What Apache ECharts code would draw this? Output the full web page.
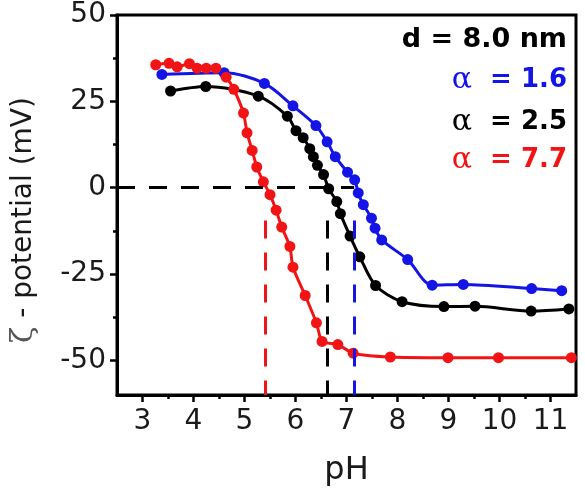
<!DOCTYPE html>
<html>
<head>
<meta charset="utf-8">
<script src="https://cdn.jsdelivr.net/npm/echarts@6/dist/echarts.min.js"></script>
<style>
html,body{margin:0;padding:0;background:#fff;}
#chart{width:585px;height:493px;}
</style>
</head>
<body>
<div id="chart"></div>
<script>
// ---- data ----
const bluePH   = [3.38, 4.60, 5.39, 5.95, 6.40, 6.62, 6.78, 7.02, 7.16, 7.23, 7.33, 7.49, 7.56, 7.69, 8.20, 8.68, 9.29, 10.63, 11.22];
const blueZeta = [32.8, 33.3, 30.2, 23.7, 18.0, 13.3, 9.0, 4.5, 2.3, -1.5, -4.9, -8.8, -11.7, -15.1, -20.8, -28.2, -28.0, -29.2, -29.8];

const blackPH   = [3.55, 4.24, 5.27, 5.84, 6.01, 6.15, 6.28, 6.35, 6.43, 6.55, 6.65, 6.81, 6.88, 7.07, 7.26, 7.57, 8.09, 8.91, 9.52, 10.62, 11.36];
const blackZeta = [28.0, 29.3, 26.5, 20.7, 16.5, 14.5, 11.3, 9.0, 6.5, 3.8, -0.3, -4.0, -7.5, -14.0, -20.0, -28.3, -33.0, -34.4, -34.3, -35.7, -35.1];

const redPH   = [3.26, 3.52, 3.68, 3.92, 4.07, 4.25, 4.44, 4.64, 4.79, 4.98, 5.05, 5.15, 5.24, 5.37, 5.50, 5.62, 5.73, 5.89, 5.95, 6.19, 6.41, 6.52, 6.83, 7.13, 7.86, 8.99, 9.98, 11.41];
const redZeta = [35.6, 36.0, 35.0, 35.9, 34.6, 34.6, 34.6, 32.0, 28.5, 21.6, 15.9, 10.8, 6.0, 1.7, -2.0, -6.5, -11.4, -17.0, -23.0, -31.2, -39.1, -44.5, -45.4, -47.9, -49.0, -49.2, -49.2, -49.2];

// isoelectric points (zero crossings) [red, black, blue]
const iepPH = [5.40, 6.63, 7.15];
const zeroLineEnd = 7.15;

// axes
const xMin = 2.5, xMax = 11.5;
const yMin = -60, yMax = 50;
const xMajor = [3, 4, 5, 6, 7, 8, 9, 10, 11];
const xMinor = [3.5, 4.5, 5.5, 6.5, 7.5, 8.5, 9.5, 10.5];
const yMajor = [-50, -25, 0, 25, 50];
const yMinor = [-37.5, -12.5, 12.5, 37.5];

// texts
const xTitle = 'pH';
const yTitleSymbol = 'ζ';
const yTitleRest = ' - potential (mV)';
const headerText = 'd = 8.0 nm';
const alphaValues = ['1.6', '2.5', '7.7'];

// ---- styles ----
const BLUE = '#1414e6';
const RED = '#f21414';
const BLACK = '#000000';
const FONT = 'DejaVu Sans';

function zip(a, b) { return a.map((v, i) => [v, b[i]]); }

const chart = echarts.init(document.getElementById('chart'));

const dash = [18, 14];
function vLine(x) { return [{ coord: [x, -9.5] }, { coord: [x, yMin] }]; }

function alphaTitle(val, color, top) {
  return {
    text: '{a|α}{b|  = ' + val + '}',
    right: 18, top: top, padding: 0,
    textStyle: {
      fontWeight: 'normal',
      rich: {
        a: { fontFamily: 'DejaVu Serif', fontWeight: 'normal', fontSize: 30, color: color, lineHeight: 30 },
        b: { fontFamily: FONT, fontWeight: 'bold', fontSize: 26, color: color, lineHeight: 30 }
      }
    }
  };
}

const axisFont = { fontFamily: FONT, fontSize: 28, color: '#1a1a1a' };

chart.setOption({
  animation: false,
  backgroundColor: '#fff',
  title: [
    { text: headerText, right: 18, top: 25, padding: 0,
      textStyle: { fontFamily: FONT, fontWeight: 'bold', fontSize: 27, color: BLACK, lineHeight: 30 } },
    alphaTitle(alphaValues[0], BLUE, 65),
    alphaTitle(alphaValues[1], BLACK, 107),
    alphaTitle(alphaValues[2], RED, 145)
  ],
  graphic: [{
    type: 'text', x: 24, y: 220, rotation: Math.PI / 2, silent: true,
    style: {
      text: '{z|' + yTitleSymbol + '}' + yTitleRest,
      align: 'center', verticalAlign: 'middle',
      fontFamily: FONT, fontSize: 28, fill: '#1a1a1a',
      rich: { z: { fontFamily: 'DejaVu Serif', fontSize: 30, fill: '#555', color: '#555' } }
    }
  }],
  grid: { left: 117, right: 9, top: 15, bottom: 98, show: true, borderColor: '#000', borderWidth: 3, backgroundColor: 'transparent' },
  xAxis: [
    {
      type: 'value', min: xMin, max: xMax, position: 'bottom',
      axisLine: { show: true, onZero: false, lineStyle: { color: '#000', width: 3 } },
      axisTick: { show: true, customValues: xMajor, length: 7, lineStyle: { color: '#000', width: 2.5 } },
      axisLabel: Object.assign({ customValues: xMajor, margin: 13 }, axisFont),
      splitLine: { show: false },
      name: xTitle, nameLocation: 'middle', nameGap: 60,
      nameTextStyle: { fontFamily: FONT, fontSize: 32, color: '#1a1a1a' }
    },
    {
      type: 'value', min: xMin, max: xMax, position: 'bottom',
      axisLine: { show: false, onZero: false },
      axisTick: { show: true, customValues: xMinor, length: 4, lineStyle: { color: '#000', width: 2.5 } },
      axisLabel: { show: false },
      splitLine: { show: false }
    }
  ],
  yAxis: [
    {
      type: 'value', min: yMin, max: yMax, position: 'left',
      axisLine: { show: true, onZero: false, lineStyle: { color: '#000', width: 3 } },
      axisTick: { show: true, customValues: yMajor, length: 7, lineStyle: { color: '#000', width: 2.5 } },
      axisLabel: Object.assign({ customValues: yMajor, margin: 11 }, axisFont),
      splitLine: { show: false }
    },
    {
      type: 'value', min: yMin, max: yMax, position: 'left',
      axisLine: { show: false, onZero: false },
      axisTick: { show: true, customValues: yMinor, length: 4, lineStyle: { color: '#000', width: 2.5 } },
      axisLabel: { show: false },
      splitLine: { show: false }
    }
  ],
  series: [
    {
      type: 'line', name: 'black', data: zip(blackPH, blackZeta),
      smooth: 0.3, symbol: 'circle', symbolSize: 11,
      lineStyle: { color: BLACK, width: 3 }, itemStyle: { color: BLACK },
      markLine: {
        silent: true, symbol: 'none', label: { show: false },
        lineStyle: { color: BLACK, width: 3, type: dash },
        data: [
          [{ coord: [xMin, 0] }, { coord: [zeroLineEnd, 0] }],
          vLine(iepPH[1])
        ]
      }
    },
    {
      type: 'line', name: 'blue', data: zip(bluePH, blueZeta),
      smooth: 0.3, symbol: 'circle', symbolSize: 11,
      lineStyle: { color: BLUE, width: 3 }, itemStyle: { color: BLUE },
      markLine: {
        silent: true, symbol: 'none', label: { show: false },
        lineStyle: { color: BLUE, width: 3, type: dash },
        data: [vLine(iepPH[2])]
      }
    },
    {
      type: 'line', name: 'red', data: zip(redPH, redZeta),
      smooth: 0.2, symbol: 'circle', symbolSize: 11,
      lineStyle: { color: RED, width: 3 }, itemStyle: { color: RED },
      markLine: {
        silent: true, symbol: 'none', label: { show: false },
        lineStyle: { color: RED, width: 3, type: dash },
        data: [vLine(iepPH[0])]
      }
    }
  ]
});
</script>
</body>
</html>
